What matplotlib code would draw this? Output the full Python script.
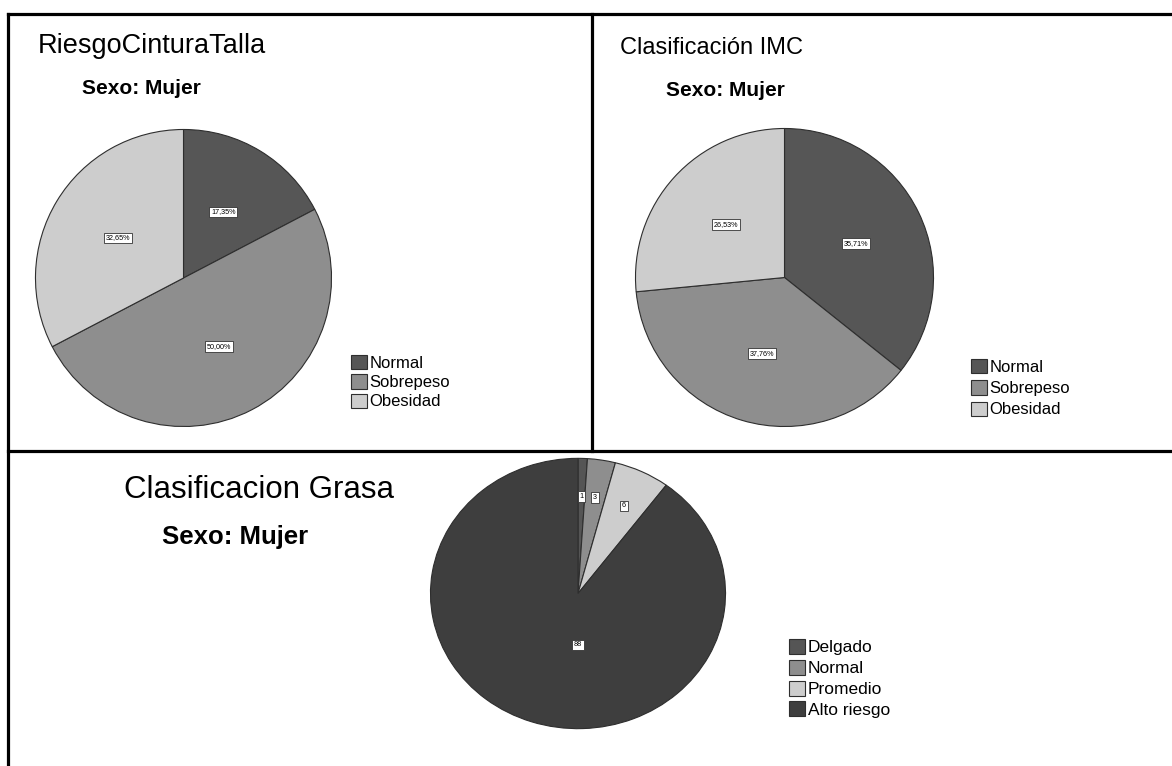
import math

import matplotlib

matplotlib.use("Agg")
import matplotlib.pyplot as plt
from matplotlib.lines import Line2D

plt.rcParams["font.family"] = ["Liberation Sans", "DejaVu Sans"]

# Waist/height risk, women (percent)
cintura_labels = ["Normal", "Sobrepeso", "Obesidad"]
cintura_pct = [17.35, 50.00, 32.65]

# BMI classification, women (percent)
imc_labels = ["Normal", "Sobrepeso", "Obesidad"]
imc_pct = [35.71, 37.76, 26.53]

# Body fat classification, women (counts)
grasa_labels = ["Delgado", "Normal", "Promedio", "Alto riesgo"]
grasa_counts = [1, 3, 6, 88]

GRAYS3 = ["#565656", "#8e8e8e", "#cdcdcd"]
GRAYS4 = ["#555555", "#8e8e8e", "#cdcdcd", "#3e3e3e"]

W, H = 1172, 766
fig = plt.figure(figsize=(W / 100, H / 100), dpi=100)


def px_axes(x0, y0, x1, y1):
    """Axes from pixel box (top-left origin)."""
    return fig.add_axes([x0 / W, 1 - y1 / H, (x1 - x0) / W, (y1 - y0) / H])


def fmt_pct(v):
    return f"{v:.2f}%".replace(".", ",")


def draw_pie(box, values, colors, texts, pctdist):
    ax = px_axes(*box)
    wedges, _ = ax.pie(values, colors=colors, startangle=90, counterclock=False,
                       radius=1.0,
                       wedgeprops=dict(edgecolor="#2e2e2e", linewidth=0.8))
    ax.set_aspect("auto")
    ax.set_xlim(-1.01, 1.01)
    ax.set_ylim(-1.01, 1.01)
    start = 90.0
    total = float(sum(values))
    for v, t in zip(values, texts):
        mid = start - 360.0 * (v / total) / 2
        start -= 360.0 * v / total
        x = pctdist * math.cos(math.radians(mid))
        y = pctdist * math.sin(math.radians(mid))
        ax.text(x, y, t, ha="center", va="center", fontsize=5.2,
                bbox=dict(boxstyle="square,pad=0.25", fc="white",
                          ec="#333333", lw=0.6))
    return ax, wedges


def add_legend(ax, wedges, labels, x, y, size, spacing):
    ax.legend(wedges, labels, loc="upper left",
              bbox_to_anchor=(x / W, 1 - y / H), bbox_transform=fig.transFigure,
              frameon=False, fontsize=size, handlelength=0.95, handleheight=0.95,
              handletextpad=0.15, labelspacing=spacing, borderpad=0, borderaxespad=0)


# --- RiesgoCinturaTalla ---
ax1, w1 = draw_pie((34, 128, 333, 428), cintura_pct, GRAYS3,
                   [fmt_pct(v) for v in cintura_pct], 0.52)
add_legend(ax1, w1, cintura_labels, 351, 355, 12, 0.2)
fig.text(38 / W, 1 - 46 / H, "RiesgoCinturaTalla", fontsize=19.5, va="center", ha="left")
fig.text(82 / W, 1 - 89 / H, "Sexo: Mujer", fontsize=15, fontweight="bold",
         va="center", ha="left")

# --- Clasificación IMC ---
ax2, w2 = draw_pie((634, 127, 935, 428), imc_pct, GRAYS3,
                   [fmt_pct(v) for v in imc_pct], 0.53)
add_legend(ax2, w2, imc_labels, 971, 359, 12, 0.32)
fig.text(620 / W, 1 - 48 / H, "Clasificación IMC", fontsize=17, va="center", ha="left")
fig.text(666 / W, 1 - 91 / H, "Sexo: Mujer", fontsize=15, fontweight="bold",
         va="center", ha="left")

# --- Clasificacion Grasa ---
ax3, w3 = draw_pie((429, 457, 727, 730), grasa_counts, GRAYS4,
                   [str(v) for v in grasa_counts], 0.72)
# the large slice label sits lower, near the centre
ax3.texts[-1].set_position((0, -0.38))
add_legend(ax3, w3, grasa_labels, 789, 639, 12.5, 0.25)
fig.text(124 / W, 1 - 490 / H, "Clasificacion Grasa", fontsize=22.5, va="center", ha="left")
fig.text(162 / W, 1 - 537 / H, "Sexo: Mujer", fontsize=18.5, fontweight="bold",
         va="center", ha="left")

# table grid lines around the three panels
grid = [((8, 14), (W, 14)), ((8, 451), (W, 451)),
        ((592, 14), (592, 451)), ((8, 14), (8, H))]
for (xa, ya), (xb, yb) in grid:
    fig.add_artist(Line2D([xa / W, xb / W], [1 - ya / H, 1 - yb / H],
                          transform=fig.transFigure, color="black", linewidth=2.3))

fig.savefig("out.png", dpi=100, facecolor="white")
plt.close(fig)
